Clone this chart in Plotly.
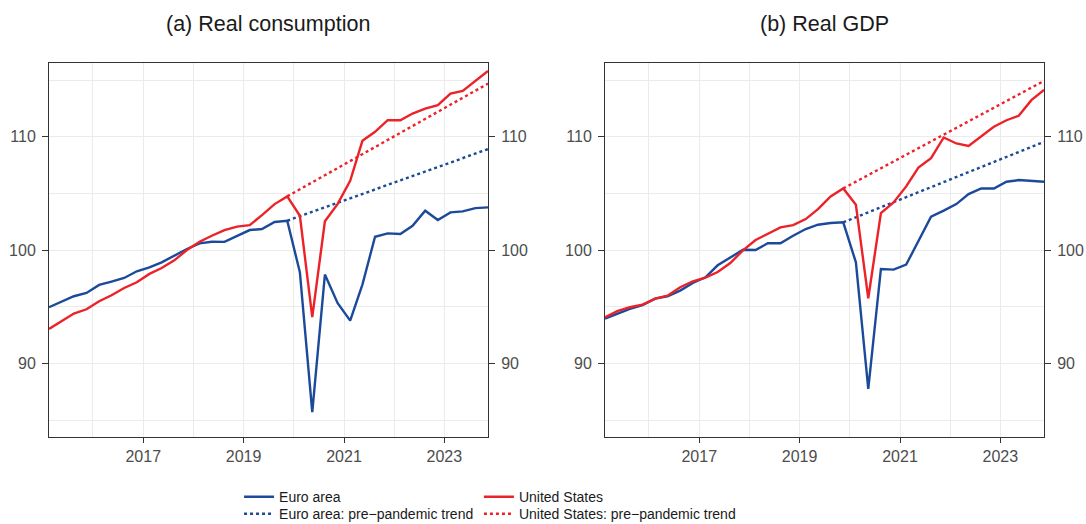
import plotly.graph_objects as go

# Quarterly dates 2015Q1..2023Q4 (mid-quarter)
quarters = [f"{y}-{m:02d}-15" for y in range(2015, 2024) for m in (2, 5, 8, 11)]

ea_consumption = [94.95, 95.45, 95.92, 96.21, 96.92, 97.21, 97.53, 98.12, 98.47, 98.91,
                  99.5, 100.09, 100.59, 100.73, 100.72, 101.26, 101.76, 101.85, 102.47, 102.58,
                  98.03, 85.7, 97.83, 95.33, 93.77, 96.95, 101.17, 101.47, 101.41, 102.14,
                  103.47, 102.64, 103.32, 103.41, 103.70, 103.76]
us_consumption = [93.04, 93.72, 94.39, 94.77, 95.48, 96.01, 96.65, 97.15, 97.89, 98.41,
                  99.09, 100.0, 100.73, 101.26, 101.76, 102.06, 102.20, 103.08, 104.05, 104.73,
                  103.02, 94.07, 102.53, 104.05, 106.11, 109.63, 110.43, 111.45, 111.45, 112.04,
                  112.48, 112.78, 113.80, 114.04, 114.92, 115.80]
ea_gdp = [93.95, 94.36, 94.80, 95.13, 95.71, 95.92, 96.42, 97.09, 97.59, 98.65,
          99.35, 100.02, 100.0, 100.59, 100.59, 101.26, 101.85, 102.23, 102.38, 102.44,
          98.91, 87.75, 98.33, 98.27, 98.71, 100.82, 102.94, 103.47, 104.05, 104.93,
          105.43, 105.43, 106.02, 106.17, 106.08, 106.02]
us_gdp = [94.05, 94.60, 94.95, 95.18, 95.71, 95.97, 96.71, 97.24, 97.56, 98.06,
          98.85, 99.97, 100.88, 101.41, 102.0, 102.20, 102.73, 103.61, 104.73, 105.43,
          103.99, 95.74, 103.26, 104.20, 105.61, 107.28, 108.11, 109.93, 109.40, 109.19,
          110.07, 110.87, 111.45, 111.84, 113.22, 114.13]

# Pre-pandemic trends (straight lines from 2019Q4 to 2023Q4)
trend_dates = ["2019-11-15", "2023-11-15"]
ea_consumption_trend = [102.58, 108.9]
us_consumption_trend = [104.73, 114.68]
ea_gdp_trend = [102.44, 109.54]
us_gdp_trend = [105.43, 114.92]

x_ticks = ["2017-01-01", "2019-01-01", "2021-01-01", "2023-01-01"]
x_tick_labels = ["2017", "2019", "2021", "2023"]
x_minor = ["2016-01-01", "2018-01-01", "2020-01-01", "2022-01-01"]
y_ticks = [90, 100, 110]
y_minor = [85, 95, 105, 115]

panel_titles = ["(a) Real consumption", "(b) Real GDP"]

BLUE = "#1c4a9a"
RED = "#ec2229"
FONT = "Liberation Sans, Arial, sans-serif"
TXT = "#4d4d4d"
GRID = "#ebebeb"
AX = "#333333"

fig = go.Figure()

panels = [
    ("x", "y", ea_consumption, us_consumption, ea_consumption_trend, us_consumption_trend, True),
    ("x2", "y3", ea_gdp, us_gdp, ea_gdp_trend, us_gdp_trend, False),
]
for xa, ya, ea, us, eat, ust, show in panels:
    fig.add_trace(go.Scatter(x=quarters, y=ea, mode="lines", name="Euro area",
                             line=dict(color=BLUE, width=2.4), xaxis=xa, yaxis=ya,
                             showlegend=show, legend="legend"))
    fig.add_trace(go.Scatter(x=trend_dates, y=eat, mode="lines", name="Euro area: pre\u2212pandemic trend",
                             line=dict(color=BLUE, width=2.4, dash="dot"), xaxis=xa, yaxis=ya,
                             showlegend=show, legend="legend3"))
    fig.add_trace(go.Scatter(x=quarters, y=us, mode="lines", name="United States",
                             line=dict(color=RED, width=2.4), xaxis=xa, yaxis=ya,
                             showlegend=show, legend="legend2"))
    fig.add_trace(go.Scatter(x=trend_dates, y=ust, mode="lines", name="United States: pre\u2212pandemic trend",
                             line=dict(color=RED, width=2.4, dash="dot"), xaxis=xa, yaxis=ya,
                             showlegend=show, legend="legend4"))

# invisible traces to carry the right-hand axes
fig.add_trace(go.Scatter(x=quarters, y=ea_consumption, mode="lines", line=dict(width=0),
                         opacity=0, showlegend=False, hoverinfo="skip", xaxis="x", yaxis="y2"))
fig.add_trace(go.Scatter(x=quarters, y=ea_gdp, mode="lines", line=dict(width=0),
                         opacity=0, showlegend=False, hoverinfo="skip", xaxis="x2", yaxis="y4"))

YR = [83.5, 116.5]
XR = ["2015-02-15", "2023-11-15"]

xcommon = dict(range=XR, type="date", tickvals=x_ticks, ticktext=x_tick_labels,
               ticks="outside", ticklen=5, tickcolor=AX, showline=True, linecolor=AX,
               linewidth=1, mirror=True, showgrid=True, gridcolor=GRID, gridwidth=1,
               zeroline=False, tickfont=dict(size=16, color=TXT, family=FONT),
               minor=dict(tickvals=x_minor, showgrid=True, gridcolor=GRID, gridwidth=1))
ycommon = dict(range=YR, tickvals=y_ticks, ticks="outside", ticklen=6, tickcolor=AX,
               showline=True, linecolor=AX, linewidth=1, zeroline=False,
               ticklabelstandoff=3,
               tickfont=dict(size=16, color=TXT, family=FONT))

leg_common = dict(xanchor="left", yanchor="top", orientation="v",
                  font=dict(size=14, color="#1a1a1a", family=FONT),
                  bgcolor="rgba(0,0,0,0)")
ROW1 = -0.118
ROW2 = -0.1635
COL1 = 0.191
COL2 = 0.4321

fig.update_layout(
    width=1086, height=524,
    margin=dict(l=49, r=42, t=63, b=87, autoexpand=False),
    plot_bgcolor="white", paper_bgcolor="white",
    font=dict(family=FONT, color=TXT),
    xaxis=dict(domain=[0, 0.4412], anchor="y", **xcommon),
    xaxis2=dict(domain=[0.5588, 1], anchor="y3", **xcommon),
    yaxis=dict(anchor="x", side="left", showgrid=True, gridcolor=GRID,
               minor=dict(tickvals=y_minor, showgrid=True, gridcolor=GRID), **ycommon),
    yaxis2=dict(anchor="x", overlaying="y", side="right", showgrid=False, **ycommon),
    yaxis3=dict(anchor="x2", side="left", showgrid=True, gridcolor=GRID,
                minor=dict(tickvals=y_minor, showgrid=True, gridcolor=GRID), **ycommon),
    yaxis4=dict(anchor="x2", overlaying="y3", side="right", showgrid=False, **ycommon),
    legend=dict(x=COL1, y=ROW1, **leg_common),
    legend2=dict(x=COL2, y=ROW1, **leg_common),
    legend3=dict(x=COL1, y=ROW2, **leg_common),
    legend4=dict(x=COL2, y=ROW2, **leg_common),
    annotations=[
        dict(text=panel_titles[0], x=0.2206, y=1.0, xref="paper", yref="paper",
             xanchor="center", yanchor="middle", yshift=39, showarrow=False,
             font=dict(size=21.5, color="#1a1a1a", family=FONT)),
        dict(text=panel_titles[1], x=0.7794, y=1.0, xref="paper", yref="paper",
             xanchor="center", yanchor="middle", yshift=39, showarrow=False,
             font=dict(size=21.5, color="#1a1a1a", family=FONT)),
    ],
)

fig.write_html("out.html", config={"displayModeBar": False})

# remove the default page margin so the figure sits at the window's top-left corner
with open("out.html", "r", encoding="utf-8") as f:
    html = f.read()
html = html.replace("<head>", "<head><style>html,body{margin:0;padding:0;overflow:hidden;}</style>", 1)
with open("out.html", "w", encoding="utf-8") as f:
    f.write(html)
